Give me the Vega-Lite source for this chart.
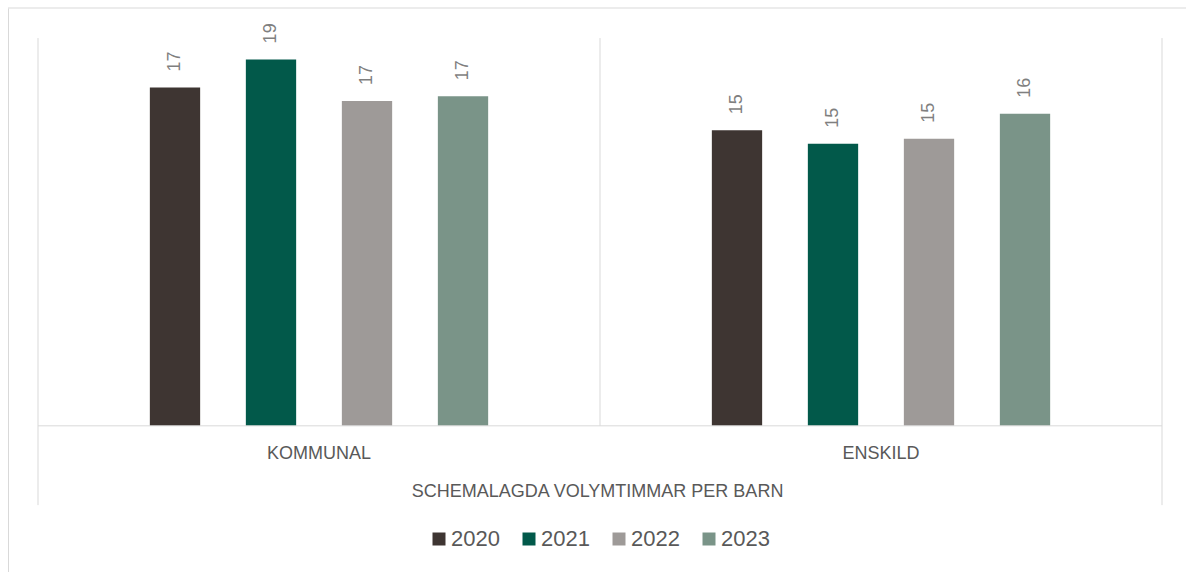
{
  "$schema": "https://vega.github.io/schema/vega-lite/v6.json",
  "width": 1178,
  "height": 564,
  "autosize": {"type": "none"},
  "padding": {"left": 8, "top": 8, "right": 0, "bottom": 0},
  "background": "white",
  "config": {
    "view": {"stroke": null},
    "font": "Liberation Sans"
  },
  "datasets": {
    "main": [
      {"kategori": "KOMMUNAL", "year": "2020", "timmar": 17.45},
      {"kategori": "KOMMUNAL", "year": "2021", "timmar": 18.9},
      {"kategori": "KOMMUNAL", "year": "2022", "timmar": 16.75},
      {"kategori": "KOMMUNAL", "year": "2023", "timmar": 17.0},
      {"kategori": "ENSKILD", "year": "2020", "timmar": 15.25},
      {"kategori": "ENSKILD", "year": "2021", "timmar": 14.55},
      {"kategori": "ENSKILD", "year": "2022", "timmar": 14.8},
      {"kategori": "ENSKILD", "year": "2023", "timmar": 16.1}
    ],
    "one": [{"kategori": "KOMMUNAL", "slut": "ENSKILD"}]
  },
  "layer": [
    {
      "data": {"name": "main"},
      "mark": {"type": "bar", "width": 50.3},
      "encoding": {
        "x": {
          "field": "kategori",
          "type": "nominal",
          "sort": ["KOMMUNAL", "ENSKILD"],
          "scale": {"domain": ["KOMMUNAL", "ENSKILD"], "paddingInner": 0, "paddingOuter": 0.048043, "align": 0.5556},
          "axis": {
            "orient": "bottom",
            "offset": -146.2,
            "domain": false,
            "ticks": false,
            "grid": false,
            "labelAngle": 0,
            "labelFontSize": 18,
            "labelColor": "#595959",
            "labelPadding": 19,
            "title": "SCHEMALAGDA VOLYMTIMMAR PER BARN",
            "titleFontSize": 18,
            "titleFontWeight": "normal",
            "titleColor": "#595959",
            "titlePadding": 20
          }
        },
        "xOffset": {
          "field": "year",
          "type": "nominal",
          "scale": {"domain": ["2020", "2021", "2022", "2023"], "paddingInner": 0, "paddingOuter": 0.927}
        },
        "y": {
          "field": "timmar",
          "type": "quantitative",
          "scale": {"domain": [-7.54, 21.55], "nice": false, "zero": false},
          "axis": {"orient": "left", "domain": true, "domainColor": "#d9d9d9", "domainWidth": 1, "ticks": false, "labels": false, "grid": false, "title": null}
        },
        "color": {
          "field": "year",
          "type": "nominal",
          "scale": {"domain": ["2020", "2021", "2022", "2023"], "range": ["#3e3532", "#02594a", "#9e9a98", "#7a9488"]},
          "legend": {
            "orient": "none",
            "legendX": 420,
            "legendY": 520,
            "direction": "horizontal",
            "columns": 4,
            "title": null,
            "symbolType": "square",
            "symbolSize": 169,
            "symbolStrokeWidth": 0,
            "symbolOpacity": 1,
            "labelFontSize": 22,
            "labelColor": "#595959",
            "labelOffset": 1,
            "columnPadding": 18,
            "padding": 0
          }
        }
      }
    },
    {
      "data": {"name": "main"},
      "mark": {"type": "text", "angle": 270, "align": "left", "baseline": "middle", "dx": 16, "fontSize": 18, "color": "#7f7f7f"},
      "encoding": {
        "x": {"field": "kategori", "type": "nominal", "sort": ["KOMMUNAL", "ENSKILD"], "scale": {"domain": ["KOMMUNAL", "ENSKILD"], "paddingInner": 0, "paddingOuter": 0.048043, "align": 0.5556}},
        "xOffset": {"field": "year", "type": "nominal", "scale": {"domain": ["2020", "2021", "2022", "2023"], "paddingInner": 0, "paddingOuter": 0.927}},
        "y": {"field": "timmar", "type": "quantitative"},
        "text": {"field": "timmar", "type": "quantitative", "format": ".0f"}
      }
    },
    {
      "data": {"name": "one"},
      "mark": {"type": "rule", "color": "#d9d9d9", "strokeWidth": 1},
      "encoding": {
        "y": {"datum": 21.55, "type": "quantitative"}
      }
    },
    {
      "data": {"name": "one"},
      "mark": {"type": "rule", "color": "#d9d9d9", "strokeWidth": 1},
      "encoding": {
        "x": {"field": "kategori", "type": "nominal", "bandPosition": 0},
        "y": {"datum": -4.09, "type": "quantitative"},
        "y2": {"datum": 20}
      }
    },
    {
      "data": {"name": "one"},
      "mark": {"type": "rule", "color": "#d9d9d9", "strokeWidth": 1},
      "encoding": {
        "x": {"field": "slut", "type": "nominal", "bandPosition": 0},
        "y": {"datum": 0, "type": "quantitative"},
        "y2": {"datum": 20}
      }
    },
    {
      "data": {"name": "one"},
      "mark": {"type": "rule", "color": "#d9d9d9", "strokeWidth": 1},
      "encoding": {
        "x": {"field": "slut", "type": "nominal", "bandPosition": 1},
        "y": {"datum": -4.09, "type": "quantitative"},
        "y2": {"datum": 20}
      }
    },
    {
      "data": {"name": "one"},
      "mark": {"type": "rule", "color": "#d9d9d9", "strokeWidth": 1},
      "encoding": {
        "x": {"field": "kategori", "type": "nominal", "bandPosition": 0},
        "x2": {"field": "slut", "bandPosition": 1},
        "y": {"datum": 0, "type": "quantitative"}
      }
    }
  ]
}
